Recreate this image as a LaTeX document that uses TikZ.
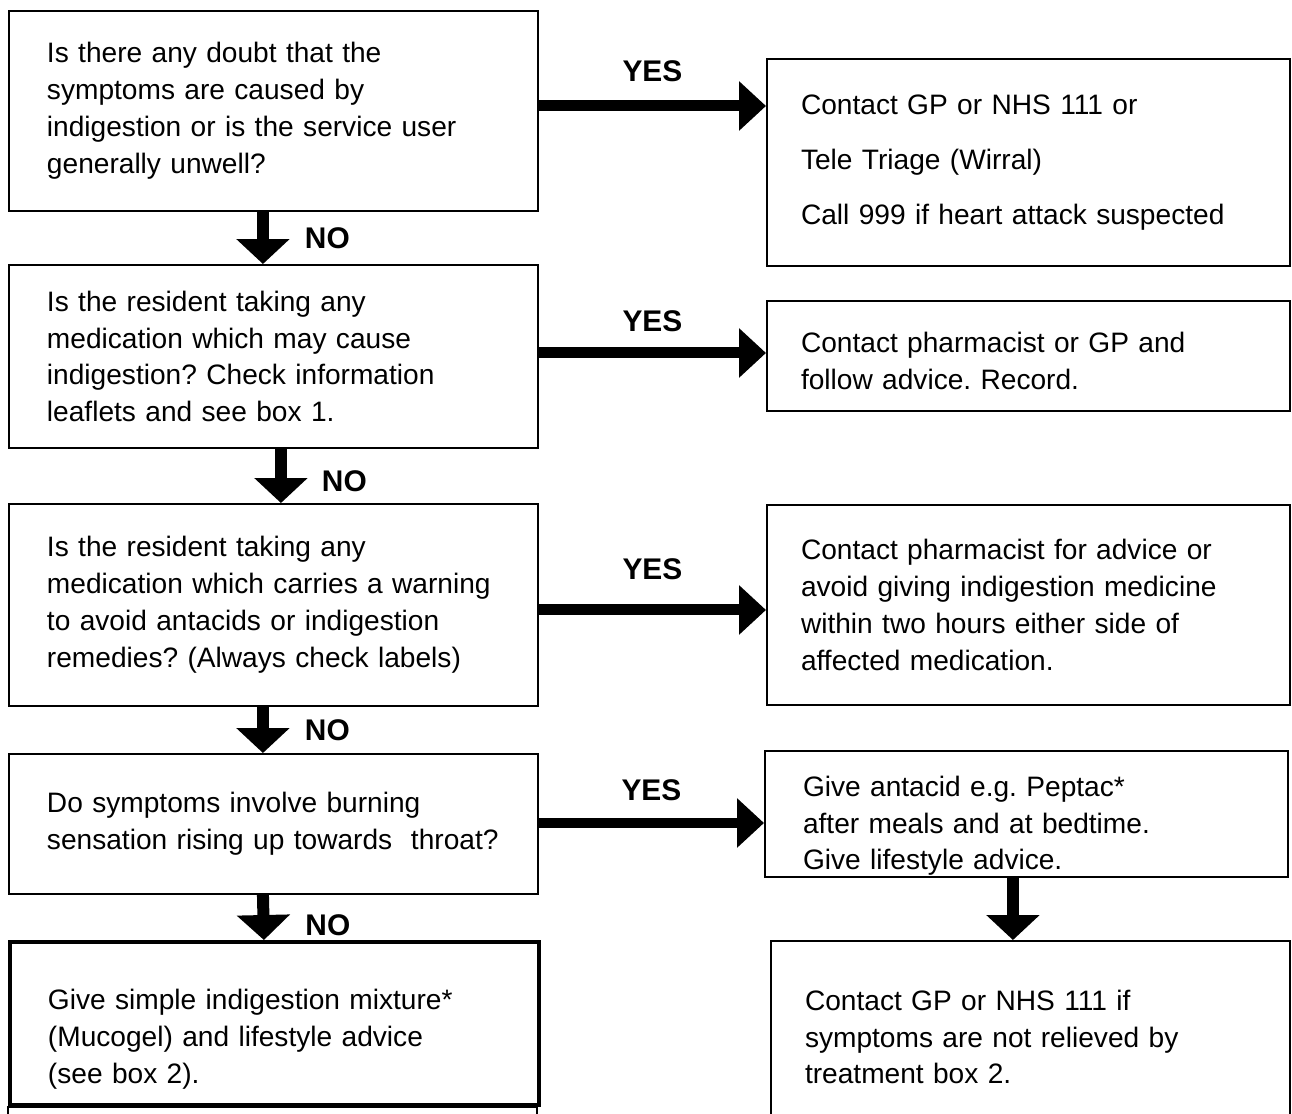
\documentclass[tikz,border=0pt]{standalone}
\usepackage{fontspec}
\setmainfont{Liberation Sans}
\usetikzlibrary{arrows.meta}

\tikzset{
  qbox/.style={draw, line width=0.04cm, anchor=north west, align=left,
    inner xsep=0.76cm, inner ysep=0pt, minimum width=10.58cm, text width=9.06cm,
    font=\fontsize{16}{21}\selectfont\frenchspacing},
  abox/.style={qbox, minimum width=10.46cm, text width=9.1cm, inner xsep=0.68cm},
  yesarrow/.style={line width=0.22cm, -{Triangle[length=0.54cm,width=0.96cm]}},
  noarrow/.style={line width=0.24cm, -{Triangle[length=0.5cm,width=1.04cm]}},
  lab/.style={font=\fontsize{17}{20}\selectfont\bfseries, inner sep=0pt},
}

\begin{document}
\begin{tikzpicture}[x=0.02cm,y=-0.02cm]

\useasboundingbox (0,0) rectangle (1292,1113);
\clip (0,0) rectangle (1292,1113);

% questions
\node[qbox, minimum height=4cm] (q1) at (8,10)
  {Is there any doubt that the\\ symptoms are caused by\\ indigestion or is the service user\\ generally unwell?};
\node[qbox, minimum height=3.66cm] (q2) at (8,264)
  {Is the resident taking any\\ medication which may cause\\ indigestion? Check information\\ leaflets and see box 1.};
\node[qbox, minimum height=4.04cm] (q3) at (8,503)
  {Is the resident taking any\\ medication which carries a warning\\ to avoid antacids or indigestion\\ remedies? (Always check labels)};
\node[qbox, minimum height=2.8cm] (q4) at (8,753)
  {Do symptoms involve burning\\ sensation rising up towards\ \ throat?};
\node[qbox, minimum height=3.26cm, line width=0.08cm] (q5) at (8,940)
  {\rule{0pt}{1.04cm}Give simple indigestion mixture*\\ (Mucogel) and lifestyle advice\\ (see box 2).};
\draw[line width=0.04cm] (8,1107) rectangle (537,1160);

% answers
\node[abox, minimum height=4.14cm, font=\fontsize{16}{31.3}\selectfont] (a1) at (766,58)
  {Contact GP or NHS 111 or\\ Tele Triage (Wirral)\\ Call 999 if heart attack suspected};
\node[abox, minimum height=2.2cm] (a2) at (766,300)
  {\rule{0pt}{0.6cm}Contact pharmacist or GP and\\ follow advice. Record.};
\node[abox, minimum height=4cm] (a3) at (766,504)
  {Contact pharmacist for advice or\\ avoid giving indigestion medicine\\ within two hours either side of\\ affected medication.};
\node[abox, minimum height=2.52cm, inner xsep=0.76cm, text width=8.94cm] (a4) at (764,750)
  {\rule{0pt}{0.88cm}Give antacid e.g. Peptac*\\ after meals and at bedtime.\\ Give lifestyle advice.};
\node[abox, minimum height=3.84cm, minimum width=10.38cm, text width=9.02cm] (a5) at (770,940)
  {Contact GP or NHS 111 if\\ symptoms are not relieved by\\ treatment box 2.};

% YES arrows
\coordinate (y1) at ([yshift=0.1cm]q1.east);
\coordinate (y2) at ([yshift=0.07cm]q2.east);
\coordinate (y3) at ([yshift=-0.1cm]q3.east);
\coordinate (y4) at ([yshift=0.02cm]q4.east);
\draw[yesarrow] (y1) -- (y1 -| a1.west) node[lab, midway, above=0.38cm] (yes1) {YES};
\draw[yesarrow] (y2) -- (y2 -| a2.west) node[lab, midway, above=0.32cm] (yes2) {YES};
\draw[yesarrow] (y3) -- (y3 -| a3.west) node[lab, midway, above=0.5cm] (yes3) {YES};
\draw[yesarrow] (y4) -- (y4 -| a4.west) node[lab, midway, above=0.33cm] (yes4) {YES};

% NO arrows
\draw[noarrow] ([xshift=-0.21cm]q1.south) -- ([xshift=-0.21cm]q2.north)
  node[lab, midway, right=0.72cm] (no1) {NO};
\draw[noarrow] ([xshift=0.15cm]q2.south) -- ([xshift=0.15cm]q3.north)
  node[lab, midway, right=0.7cm, yshift=-0.1cm] (no2) {NO};
\draw[noarrow] ([xshift=-0.21cm]q3.south) -- ([xshift=-0.21cm]q4.north)
  node[lab, midway, right=0.72cm] (no3) {NO};
\draw[noarrow] ([xshift=-0.21cm]q4.south) -- ([xshift=-0.21cm]q5.north)
  node[lab, midway, right=0.72cm, yshift=-0.16cm] (no4) {NO};

\coordinate (r4) at ([xshift=-0.27cm]a4.south);
\draw[noarrow] (r4) -- (r4 |- a5.north);

\end{tikzpicture}
\end{document}
